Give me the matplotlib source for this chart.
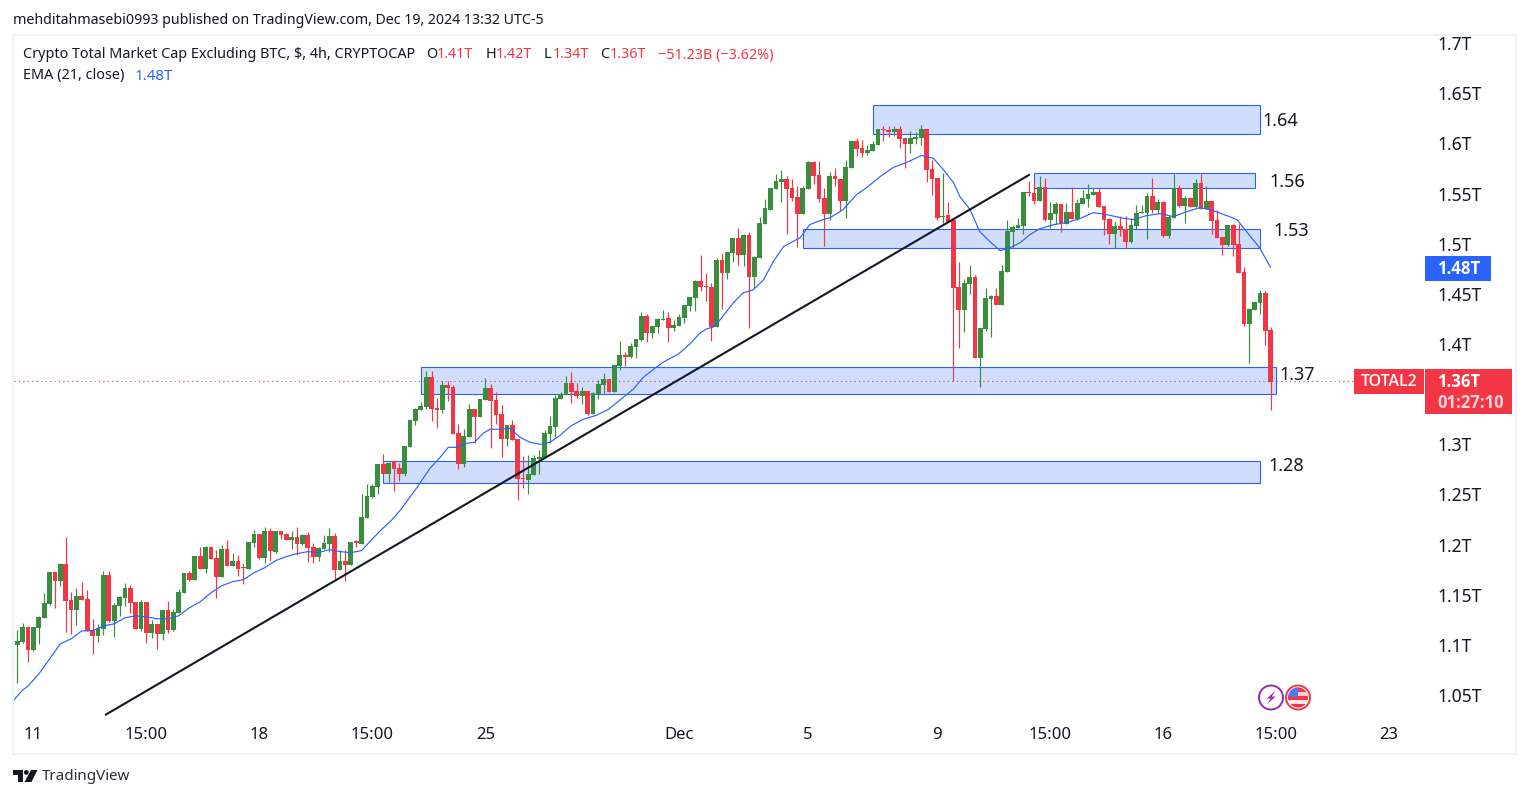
import numpy as np
import matplotlib
matplotlib.use("Agg")
import matplotlib.pyplot as plt
from matplotlib.patches import Rectangle, Circle, Polygon

# ---- data, prices in billions of USD, one entry per 4h candle ----
first_index = -1
opens = [1110,
 1100,1103,1118,1095,1117,1127,1141,1173,1164,1181,
 1145,1135,1149,1146,1115,1109,1116,1170,1124,1139,
 1147,1157,1143,1116,1143,1112,1121,1111,1135,1115,
 1132,1152,1172,1165,1189,1176,1198,1187,1168,1196,
 1179,1184,1177,1176,1202,1211,1187,1214,1193,1214,
 1211,1205,1208,1201,1210,1198,1188,1196,1201,1209,
 1175,1184,1180,1203.5,1201,1227,1247,1257,1280,1270,
 1283,1276,1270,1297,1323,1334,1337,1367,1336,1334,
 1359,1357,1311,1280,1307,1335,1327,1344,1356,1344,
 1330,1305,1319,1305,1266,1264,1269,1285,1286,1310,
 1317,1345,1349,1361,1353,1348,1353,1330,1350,1359,
 1365,1352,1378,1389,1387,1397,1404,1428,1411,1417,
 1424,1426,1416,1418,1426,1438,1446,1463,1458,1457,
 1417,1484,1471,1491,1506,1489,1509,1467,1486,1520,
 1534,1555,1562,1565,1556,1547,1530,1555,1581,1568,
 1546,1530,1567,1565,1543,1575,1602,1595,1590,1592,
 1598,1614.3,1613,1611,1614,1605,1599,1604,1605,1614,
 1574,1566,1527,1529,1524,1457,1434,1460,1467,1386,
 1415,1445,1448,1439,1472,1512,1516,1518,1552,1551,
 1543,1557,1524,1530,1540,1520,1532,1525,1540,1545,
 1549,1552,1538,1525,1510,1518,1515,1502,1518,1531,
 1531,1548,1534,1542,1508,1526,1556,1538,1546,1537,
 1561,1535,1543,1524,1507,1499,1519,1500,1472,1420,
 1434,1441,1451,1414]
closes = [1100,
 1104,1118,1095,1118,1128,1142,1173,1164,1181,1144,
 1135,1149,1145,1114,1109,1117,1170,1124,1140,1148,
 1157,1142,1116,1143,1112,1121,1111,1135,1115,1133,
 1153,1172,1165,1189,1176,1198,1186,1168,1196,1179,
 1184,1176,1176.5,1203,1211,1187,1214,1194,1214,1210,
 1205,1208,1201,1210,1197,1188,1197,1202,1209,1175,
 1184,1180,1203,1202,1228,1248,1258,1280,1270,1281,
 1275,1270,1298,1324,1335,1338,1367,1335,1334,1359,
 1356,1310,1280,1308,1335,1327,1345,1356,1343,1329,
 1305,1319,1304,1265,1265,1270,1286,1287,1311,1318,
 1346,1350,1361,1352,1348,1353,1330,1351,1360,1365,
 1352,1379,1389,1387.5,1398,1405,1428,1411,1418,1425,
 1425,1416,1419,1427,1439,1447,1463,1457,1457,1417,
 1484,1471,1492,1506,1489,1509,1467,1487,1521,1536,
 1556,1563,1565,1555,1546,1530,1556,1581,1567,1545,
 1530,1567,1565,1543,1576,1602,1594,1590,1593,1599,
 1614,1613.3,1611,1614,1604,1599,1605,1606,1614,1573,
 1565,1526,1528,1522,1456,1434,1461,1467,1386,1416,
 1446,1448,1439,1473,1513,1517,1519,1552,1551,1543,
 1557,1524,1531,1540,1521,1532,1525,1541,1546,1550,
 1552,1537,1524,1510,1518,1514,1502,1519,1531,1532,
 1548,1534,1542,1508,1527,1556,1538,1546,1537,1561,
 1535,1543,1523,1506,1499,1519,1499,1471,1420,1435,
 1442,1451,1413,1362]
highs = [1112,
 1115,1122,1119,1118,1129,1152,1173,1173,1182,1208,
 1153,1157,1163,1155,1126,1121,1174,1174,1142,1149,
 1162,1160,1143,1145,1143,1125,1121,1135,1144,1136,
 1156,1172,1174,1189,1198,1199,1199,1195,1200,1205,
 1192,1190,1182,1203,1215,1211,1218,1217,1214,1214,
 1212,1214,1218,1211,1213,1202,1198,1210,1217,1212,
 1195,1195,1203,1205,1250,1260,1260,1280,1290,1282,
 1283,1281,1298,1324,1336,1342,1373,1373,1346,1363,
 1363,1359,1320,1315,1340,1335,1345,1366,1360,1352,
 1339,1319,1324,1305,1288,1289,1289,1294,1314,1328,
 1349,1352,1368,1372,1361,1357,1353,1352,1364,1371,
 1365,1380,1403,1392,1401,1405,1432,1430,1418,1426,
 1434,1432,1424,1430,1439,1447,1464,1489,1471,1461,
 1486,1491,1492,1506,1516,1510,1512,1488,1527,1545,
 1556,1569,1573,1567,1565,1558,1558,1582,1582,1582,
 1556,1571,1575,1565,1583,1602,1605,1603,1598,1602,
 1614,1617,1617,1617,1617,1605,1612,1611,1618,1614,
 1583,1566,1570,1542,1524,1482,1465,1479,1469,1416,
 1456,1449,1456,1479,1524,1519,1526,1552,1563,1562,
 1567,1566,1542,1542,1540,1541,1557,1545,1554,1560,
 1556,1556,1538,1526,1522,1528,1528,1526,1539,1539,
 1551,1566,1545,1543,1529,1569,1559,1548,1546,1565,
 1569,1558,1543,1534,1507,1519,1520,1520,1477,1436,
 1443,1454,1453,1417]
lows = [1098,
 1062,1102,1083,1094,1101,1127,1140,1137,1159,1113,
 1111,1120,1145,1114,1091,1103,1110,1123,1108,1129,
 1139,1132,1116,1114,1102,1107,1096,1105,1112,1114,
 1132,1152,1164,1165,1176,1172,1186,1147,1168,1179,
 1179,1169,1161,1176,1198,1186,1182,1184,1192,1206,
 1205,1196,1190,1200,1183,1182,1184,1196,1193,1166,
 1175,1164,1180,1198,1201,1227,1246,1250,1270,1262,
 1253,1263,1268,1297,1319,1334,1335,1323,1316,1331,
 1343,1310,1275,1277,1307,1301,1327,1344,1296,1320,
 1287,1298,1304,1244,1256,1250,1269,1270,1286,1301,
 1307,1345,1349,1341,1346,1340,1329,1330,1345,1351,
 1352,1352,1374,1378,1386,1386,1403,1402,1406,1411,
 1424,1402,1413,1418,1421,1433,1433,1453,1443,1403,
 1417,1435,1465,1482,1479,1478,1416,1456,1486,1520,
 1534,1555,1542,1510,1543,1497,1530,1555,1560,1542,
 1498,1524,1558,1533,1526,1575,1587,1586,1588,1592,
 1598,1602,1606,1607,1595,1575,1590,1599,1598,1562,
 1549,1524,1521,1522,1363,1396,1412,1450,1386,1357,
 1413,1407,1439,1439,1472,1496,1516,1510,1548,1540,
 1543,1523,1516,1520,1512,1520,1525,1524,1540,1537,
 1549,1537,1509,1500,1496,1508,1496,1501,1515,1531,
 1505,1531,1531,1507,1506,1526,1537,1521,1537,1537,
 1535,1535,1510,1506,1489,1498,1488,1471,1418,1381,
 1434,1430,1399,1334]

ema_index = [-1,1,2,4,6,8,10,12,14,16,18,20,22,24,26,28,30,32,34,36,38,40,42,44,46,48,50,52,54,56,58,60,62,64,
 65.7,67.5,69.5,71.3,74.3,76.7,78.6,80.1,81.7,83.5,85,86.6,87.9,89.7,91.6,93.4,95.3,97.2,99,100.9,102.8,105.2,107.7,109.9,112,
 114.5,116.4,118.8,120.1,122.9,125,126.9,128.1,129.4,130.6,133.1,134.9,136.8,138.7,140.5,142.4,145.5,147.3,149.2,151.1,153.5,156,157.9,160.4,162.8,165.3,168.1,170.3,
 172.1,174,175.2,177.1,178.9,180.8,182.7,184.5,186.4,188.2,190.1,192.6,195,197.5,200,202.5,205,207.4,209.9,212.4,214.9,217.4,219.8,222.3,224.8,226.7,228.5,230.9,233]
ema_value = [1043,1055,1059,1071,1086,1101,1106,1114,1114,1119,1121,1127,1129,1128,1126,1126,1129,1137,1143,1152,1159,1163,1165,1172,1177,1184,1188,1191,1193,1192,1195,1193,1192,1194,
 1204,1214,1224,1235,1257,1276,1287,1297,1297,1301,1302,1311,1315,1315,1316,1307,1302,1300,1302,1309,1318,1325,1329,1335,1344,
 1355,1367,1377,1382,1390,1400,1411,1415,1417,1424,1441,1451,1454,1464,1482,1497,1506,1519,1523,1526,1534,1549,1556,1567,1576,1581,1588,1585,
 1574,1561,1547,1534,1512,1502,1493,1496,1501,1509,1515,1519,1521,1525,1531,1529,1526,1524,1528,1530,1527,1532,1536,1533,1528,1524,1512,1496,1476]

trend_index = [16.3, 188.2]
trend_value = [1030, 1569]

zone_start = [159, 189, 146, 75, 68]
zone_end = [231, 230, 231, 234, 231]
zone_top = [1638.3, 1570.5, 1514.7, 1377, 1283.3]
zone_bottom = [1609.4, 1555.5, 1495.7, 1350, 1261.4]
zone_labels = ["1.64", "1.56", "1.53", "1.37", "1.28"]
zone_label_px = [(1262, 121), (1269, 182), (1273, 231), (1279, 375), (1268, 466)]

price_ticks = [1050,1100,1150,1200,1250,1300,1400,1450,1500,1550,1600,1650,1700]
price_labels = ["1.05T","1.1T","1.15T","1.2T","1.25T","1.3T","1.4T","1.45T","1.5T","1.55T","1.6T","1.65T","1.7T"]
time_ticks = [3,24,45,66,87,123,147,171,192,213,234,255]
time_labels = ["11","15:00","18","15:00","25","Dec","5","9","15:00","16","15:00","23"]
last_price = 1363

GREEN = "#388E3C"
RED = "#F23645"
BLUE = "#2962FF"
INK = "#131722"
FONT = "Noto Sans"
plt.rcParams["font.family"] = [FONT, "DejaVu Sans"]

W, H = 1529, 798
fig = plt.figure(figsize=(W / 100, H / 100), dpi=100, facecolor="white")

# main chart axes, pixel box x 14..1425, y 36..720
L, R, T, B = 14, 1425, 36, 720
ax = fig.add_axes([L / W, 1 - B / H, (R - L) / W, (B - T) / H])
x_of = lambda px: (px - 17.3) / 5.38
y_of = lambda py: 1400 - (py - 344) / 1.003
ax.set_xlim(x_of(L), x_of(R))
ax.set_ylim(y_of(B), y_of(T))
for s in ax.spines.values():
    s.set_visible(False)

xs = np.arange(first_index, first_index + len(opens))
o, h, l, c = map(np.array, (opens, highs, lows, closes))
up = c >= o

for i in range(len(zone_start)):
    ax.add_patch(Rectangle((zone_start[i], zone_bottom[i]), zone_end[i] - zone_start[i],
                           zone_top[i] - zone_bottom[i], facecolor="#D1DDFC",
                           edgecolor=BLUE, linewidth=0.8, zorder=1))

ax.axhline(last_price, xmax=(1354 - L) / (R - L), color=RED, lw=0.8,
           linestyle=(0, (1, 3)), zorder=2)
colors = [GREEN if u else RED for u in up]
ax.vlines(xs, l, h, colors=colors, linewidth=0.85, zorder=3)
ax.bar(xs, np.maximum(np.abs(c - o), 1), bottom=np.minimum(o, c), width=0.88,
       color=colors, linewidth=0, zorder=3)
ax.plot(ema_index, ema_value, color=BLUE, lw=0.85, zorder=4, solid_capstyle="butt")
ax.plot(trend_index, trend_value, color=INK, lw=1.5, zorder=5, solid_capstyle="butt")

ax.yaxis.tick_right()
ax.set_yticks(price_ticks)
ax.set_yticklabels(price_labels, fontsize=12.6, color=INK, ha="left")
ax.set_xticks(time_ticks)
ax.set_xticklabels(time_labels, fontsize=12, color=INK)
for t in ax.get_xticklabels():
    if t.get_text() == "Dec":
        t.set_fontweight("bold")
ax.tick_params(axis="y", length=0, pad=8.6)
ax.tick_params(axis="x", length=0, pad=5.2)

# overlay in pixel coordinates for the chart furniture
ov = fig.add_axes([0, 0, 1, 1], facecolor="none", zorder=10)
ov.set_xlim(0, W)
ov.set_ylim(H, 0)
ov.axis("off")

ov.add_patch(Rectangle((13, 34.5), 1503, 719, fill=False, edgecolor="#F0F3FA", lw=1.5))

def label(x, y, s, color=INK, size=10, **kw):
    kw.setdefault("va", "center")
    return ov.text(x, y, s, color=color, fontsize=size, **kw)

label(13, 20, "mehditahmasebi0993 published on TradingView.com, Dec 19, 2024 13:32 UTC-5", size=10.2)
label(23, 55, "Crypto Total Market Cap Excluding BTC, $, 4h, CRYPTOCAP", size=10.35)
for x, s, col in [(426, "O", INK), (437, "1.41T", RED), (486, "H", INK), (496, "1.42T", RED),
                  (544, "L", INK), (552.5, "1.34T", RED), (600, "C", INK), (610, "1.36T", RED),
                  (658, "\u221251.23B (\u22123.62%)", RED)]:
    label(x, 55, s, color=col, size=10.35)
label(23, 76, "EMA (21, close)", size=10.4)
label(135, 76, "1.48T", color=BLUE, size=10.8)

for s, (x, y) in zip(zone_labels, zone_label_px):
    label(x, y, s, size=13)

# price tags
ov.add_patch(Rectangle((1425, 256), 66, 25, facecolor=BLUE, edgecolor="none"))
label(1437, 269, "1.48T", color="white", size=12, family="Open Sans", fontweight="bold")
ov.add_patch(Rectangle((1354, 369), 70, 25, facecolor=RED, edgecolor="none"))
label(1389, 382, "TOTAL2", color="white", size=11.4, ha="center", family="Open Sans", fontweight="semibold")
ov.add_patch(Rectangle((1425, 369), 87, 45, facecolor=RED, edgecolor="none"))
label(1437, 382, "1.36T", color="white", size=12, family="Open Sans", fontweight="bold")
label(1437, 403, "01:27:10", color="#FBD5D9", size=12, family="Open Sans", fontweight="bold")

# event icons
ov.add_patch(Circle((1271, 697.5), 12, facecolor="white", edgecolor="#9C27B0", lw=1.4))
ov.add_patch(Polygon([(1275.5, 690.5), (1267, 698.5), (1270.8, 698.5), (1267, 704.5),
                      (1275.5, 696.5), (1271.8, 696.5)], facecolor="#9C27B0", edgecolor="none"))
clip = Circle((1298, 697.5), 10, transform=ov.transData)
for y0, y1, col in [(687, 692, RED), (692, 696, "#F8C9CD"), (696, 699.5, RED),
                    (699.5, 703.5, "#FBE9EA"), (703.5, 709, RED)]:
    r = Rectangle((1286, y0), 24, y1 - y0, facecolor=col, edgecolor="none")
    ov.add_patch(r)
    r.set_clip_path(clip)
r = Rectangle((1286, 686), 12, 11, facecolor="#4A7CF0", edgecolor="none")
ov.add_patch(r)
r.set_clip_path(clip)
ov.add_patch(Circle((1298, 697.5), 12, fill=False, edgecolor="#F23645", lw=1.4))

# TradingView logo
ov.add_patch(Polygon([(13, 770), (23, 770), (23, 782), (18, 782), (18, 775), (13, 775)],
                     facecolor=INK, edgecolor="none"))
ov.add_patch(Circle((26.3, 772.4), 2.4, facecolor=INK, edgecolor="none"))
ov.add_patch(Polygon([(31, 770), (37.5, 770), (31.5, 782), (24.5, 782)], facecolor=INK, edgecolor="none"))
label(42, 777, "TradingView", size=10.9, color="#2A2E39")

fig.savefig("out.png", dpi=100, facecolor="white")
